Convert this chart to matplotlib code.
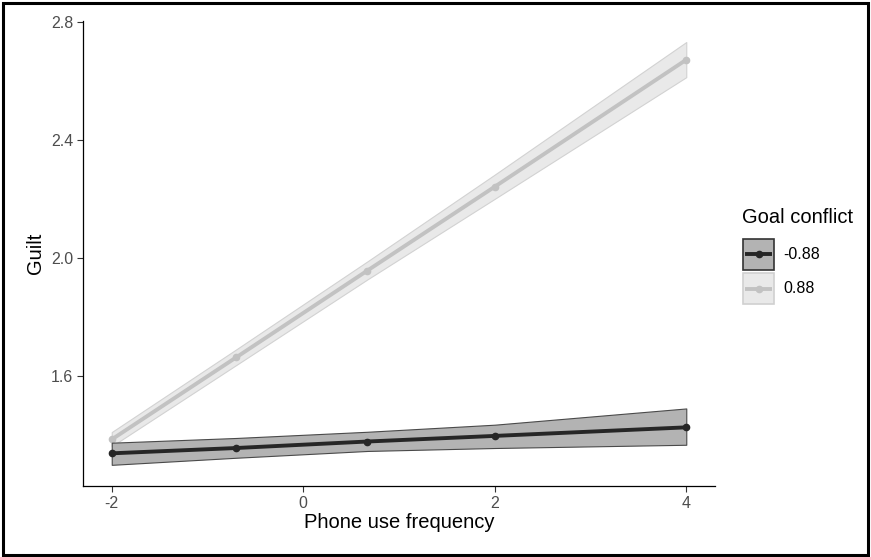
import matplotlib.pyplot as plt
from matplotlib.patches import Rectangle
from matplotlib.lines import Line2D

plt.rcParams['font.family'] = ['Liberation Sans', 'DejaVu Sans']

# ---- data ----
phone_use = [-2, -0.7, 0.67, 2, 4]

low_fit = [1.338, 1.356, 1.378, 1.397, 1.426]
low_lo = [1.299, 1.323, 1.346, 1.356, 1.367]
low_hi = [1.374, 1.390, 1.411, 1.435, 1.490]

high_fit = [1.385, 1.663, 1.957, 2.241, 2.671]
high_lo = [1.362, 1.637, 1.927, 2.200, 2.612]
high_hi = [1.410, 1.690, 1.988, 2.282, 2.731]

groups = ['-0.88', '0.88']
x_ticks = [-2, 0, 2, 4]
y_ticks = [1.6, 2.0, 2.4, 2.8]

# ---- styles ----
DARK_LINE, DARK_FILL, DARK_EDGE = '#262626', '#b3b3b3', '#4a4a4a'
LIGHT_LINE, LIGHT_FILL, LIGHT_EDGE = '#c2c2c2', '#e9e9e9', '#d2d2d2'
W, H = 871, 557

fig = plt.figure(figsize=(W / 100, H / 100), dpi=100)
ax = fig.add_axes([0.0953, 0.1275, 0.7256, 0.835])

# light group first, dark ribbon sits on top of it
ax.fill_between(phone_use, high_lo, high_hi, facecolor=LIGHT_FILL,
                edgecolor=LIGHT_EDGE, lw=0.8, zorder=1)
ax.plot(phone_use, high_fit, color=LIGHT_LINE, lw=2.8, marker='o', ms=4.5,
        solid_capstyle='butt', zorder=2)
ax.fill_between(phone_use, low_lo, low_hi, facecolor=DARK_FILL,
                edgecolor=DARK_EDGE, lw=0.8, zorder=3)
ax.plot(phone_use, low_fit, color=DARK_LINE, lw=2.8, marker='o', ms=4.5,
        solid_capstyle='butt', zorder=4)

# ggplot-like 5% expansion
xmin, xmax = min(phone_use), max(phone_use)
ymin, ymax = min(low_lo + high_lo), max(low_hi + high_hi)
ax.set_xlim(xmin - 0.05 * (xmax - xmin), xmax + 0.05 * (xmax - xmin))
ax.set_ylim(ymin - 0.05 * (ymax - ymin), ymax + 0.05 * (ymax - ymin))

ax.set_xticks(x_ticks)
ax.set_xticklabels([str(t) for t in x_ticks])
ax.set_yticks(y_ticks)
ax.set_yticklabels(['%.1f' % t for t in y_ticks])
ax.tick_params(axis='both', labelsize=11.5, labelcolor='#4d4d4d', color='#333333',
               length=4, width=0.8, pad=3)

for side in ['top', 'right']:
    ax.spines[side].set_visible(False)
for side in ['left', 'bottom']:
    ax.spines[side].set_color('black')
    ax.spines[side].set_linewidth(0.9)

ax.set_xlabel('Phone use frequency', fontsize=14.5, labelpad=2)
ax.set_ylabel('Guilt', fontsize=14.5, labelpad=4)


# ---- legend, drawn by hand in pixel positions ----
def px(x, y):
    return x / W, 1 - y / H


def legend_key(top, fill, edge, line_col, label):
    x0, y0 = px(743, top + 31)
    fig.add_artist(Rectangle((x0, y0), 31 / W, 31 / H, transform=fig.transFigure,
                             facecolor=fill, edgecolor=edge, lw=1.2))
    yc = px(0, top + 15.5)[1]
    fig.add_artist(Line2D([745 / W, 772 / W], [yc, yc], transform=fig.transFigure,
                          color=line_col, lw=2.8, solid_capstyle='butt'))
    fig.add_artist(Line2D([758.5 / W], [yc], transform=fig.transFigure,
                          color=line_col, marker='o', ms=4.5, lw=0))
    fig.text(783 / W, yc, label, fontsize=11.5, va='center', ha='left')


fig.text(742 / W, px(0, 218)[1], 'Goal conflict', fontsize=14.5, va='center', ha='left')
legend_key(239, DARK_FILL, '#333333', DARK_LINE, groups[0])
legend_key(273, LIGHT_FILL, '#d0d0d0', LIGHT_LINE, groups[1])

# outer frame around the whole picture
fig.patches.append(Rectangle((0.003, 0.004), 0.994, 0.991, transform=fig.transFigure,
                             fill=False, edgecolor='black', lw=2.2))

fig.savefig('out.png', dpi=100)
